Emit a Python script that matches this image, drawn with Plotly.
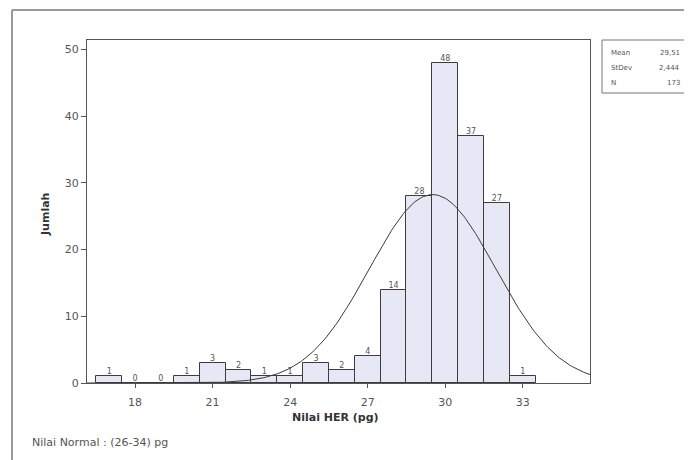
import numpy as np
import plotly.graph_objects as go

# ---- data ----
bin_centers = [17, 18, 19, 20, 21, 22, 23, 24, 25, 26, 27, 28, 29, 30, 31, 32, 33]
counts = [1, 0, 0, 1, 3, 2, 1, 1, 3, 2, 4, 14, 28, 48, 37, 27, 1]
stat_labels = ["Mean", "StDev", "N"]
stat_values = ["29,51", "2,444", "173"]
mean_val = 29.51
sd_val = 2.444
n_val = 173
bin_width = 1.0
x_ticks = [18, 21, 24, 27, 30, 33]
y_ticks = [0, 10, 20, 30, 40, 50]
x_range = [16.14, 35.6]
y_range = [0, 51.4]

# page is offset by the 8px body margin; work in page pixels and convert
OFF = 8
W, H = 692 - OFF, 460 - OFF
L, R, T, B = 87 - OFF, 590 - OFF, 40 - OFF, 383 - OFF
def px(xp):
    return (xp - OFF - L) / (R - L)
def py(yp):
    return (B - (yp - OFF)) / (B - T)

FONT = "DejaVu Sans"
AX = "#555555"

fig = go.Figure()
fig.add_trace(go.Bar(
    x=bin_centers, y=counts, width=bin_width,
    marker=dict(color="#e6e8f5", line=dict(color="#3c3c3c", width=1)),
    hoverinfo="x+y", showlegend=False,
))
fig.add_trace(go.Scatter(
    x=bin_centers, y=counts, mode="text",
    text=[str(c) for c in counts], textposition="top center",
    textfont=dict(family=FONT, size=8, color="#555555"),
    showlegend=False, hoverinfo="skip", cliponaxis=False,
))
# fitted normal curve from the stated Mean / StDev / N
xc = np.linspace(x_range[0], x_range[1], 300)
yc = n_val * bin_width / (sd_val * np.sqrt(2 * np.pi)) * np.exp(-0.5 * ((xc - mean_val) / sd_val) ** 2)
fig.add_trace(go.Scatter(x=xc, y=yc, mode="lines",
                         line=dict(color="#3a3a3a", width=1),
                         showlegend=False, hoverinfo="skip"))

fig.update_xaxes(range=x_range, tickvals=x_ticks, ticks="outside", ticklen=4,
                 tickcolor=AX, showline=True, linecolor=AX, linewidth=1, mirror=True,
                 showgrid=False, zeroline=False, ticklabelstandoff=5,
                 tickfont=dict(family=FONT, size=11, color="#555555"))
fig.update_yaxes(range=y_range, tickvals=y_ticks, ticks="outside", ticklen=5,
                 tickcolor=AX, showline=True, linecolor=AX, linewidth=1, mirror=True,
                 showgrid=False, zeroline=False,
                 tickfont=dict(family=FONT, size=11, color="#555555"))

ann = [
    dict(text="<b>Jumlah</b>", x=px(45), y=py(215), textangle=-90,
         font=dict(family=FONT, size=11, color="#333333")),
    dict(text="<b>Nilai HER (pg)</b>", x=px(335), y=py(418),
         font=dict(family=FONT, size=11, color="#333333")),
    dict(text="Nilai Normal : (26-34) pg", x=px(30), y=py(443), xanchor="left",
         font=dict(family=FONT, size=11, color="#555555")),
]
row_y = [53, 68, 83]
for lab, val, yy in zip(stat_labels, stat_values, row_y):
    ann.append(dict(text=lab, x=px(609), y=py(yy), xanchor="left",
                    font=dict(family=FONT, size=7, color="#555555")))
    ann.append(dict(text=val, x=px(682), y=py(yy), xanchor="right",
                    font=dict(family=FONT, size=7, color="#555555")))
for a in ann:
    a.update(xref="paper", yref="paper", showarrow=False,
             yanchor=a.get("yanchor", "middle"), xanchor=a.get("xanchor", "center"))

shapes = [
    # outer frame (left and top edges)
    dict(type="line", xref="paper", yref="paper", x0=px(12), x1=px(12), y0=py(10), y1=py(470),
         line=dict(color="#9a9a9a", width=2)),
    dict(type="line", xref="paper", yref="paper", x0=px(12), x1=px(700), y0=py(10), y1=py(10),
         line=dict(color="#9a9a9a", width=2)),
    # statistics box
    dict(type="rect", xref="paper", yref="paper", x0=px(602), x1=px(687), y0=py(40), y1=py(93),
         line=dict(color="#777777", width=1), fillcolor="rgba(0,0,0,0)"),
]

fig.update_layout(
    width=W, height=H,
    margin=dict(l=L, r=W - R, t=T, b=H - B, pad=0),
    paper_bgcolor="white", plot_bgcolor="white",
    bargap=0, annotations=ann, shapes=shapes,
    font=dict(family=FONT),
)
fig.write_html("out.html")
